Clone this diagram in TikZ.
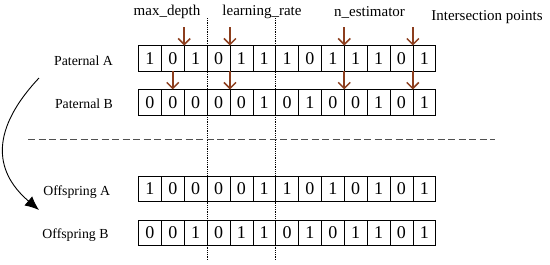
\documentclass[tikz,border=0pt]{standalone}
\usepackage{fontspec}
\setmainfont{Liberation Serif}
\usetikzlibrary{arrows.meta}
\definecolor{arrowbrown}{RGB}{140,62,30}
\definecolor{dashgray}{RGB}{80,80,80}
\tikzset{
  cell/.style={draw, line width=0.6pt, minimum width=22.86pt, minimum height=25.5pt, inner sep=0pt, outer sep=0pt, font=\fontsize{18}{20}\selectfont},
  rowlabel/.style={anchor=base, inner sep=0pt, font=\fontsize{13.8}{16}\selectfont},
  toplabel/.style={anchor=base, inner sep=0pt, font=\fontsize{15}{17}\selectfont},
  cutarrow/.style={draw=arrowbrown, line width=1.5pt, -{Straight Barb[length=6pt,width=12pt,line width=1.5pt]}},
  divider/.style={densely dotted, line width=0.8pt},
  sepline/.style={dashed, dash pattern=on 7pt off 3.5pt, draw=dashgray, line width=0.7pt},
}
\begin{document}
\begin{tikzpicture}[x=1pt,y=-1pt]
\useasboundingbox (0,0) rectangle (550,265);
% rows
\foreach \r/\yy/\bits in {a/58.3/{1,0,1,0,1,1,1,0,1,1,1,0,1},
                           b/102.2/{0,0,0,0,0,1,0,1,0,0,1,0,1},
                           c/188.7/{1,0,0,0,0,1,1,0,1,0,1,0,1},
                           d/233/{0,0,1,0,1,1,0,1,0,1,1,0,1}}{
  \foreach \v [count=\i] in \bits {
    \node[cell] (\r\i) at ({138.5+(\i-0.5)*22.86},\yy) {\v};
  }
}
% row labels
\node[rowlabel] (la) at (83.5,65) {Paternal A};
\node[rowlabel] (lb) at (84,108.3) {Paternal B};
\node[rowlabel] (lc) at (76.7,195) {Offspring A};
\node[rowlabel] (ld) at (75.5,238.3) {Offspring B};
% top labels
\node[toplabel] (t1) at (167,16) {max\_depth};
\node[toplabel] (t2) at (262,16) {learning\_rate};
\node[toplabel] (t3) at (369.5,16.5) {n\_estimator};
\node[toplabel] (t4) at (487,20.7) {Intersection points};
% dotted dividers
\coordinate (v1t) at (a3.north east |- 0,18);
\coordinate (v1b) at (a3.north east |- 0,260);
\coordinate (v2t) at (a6.north east |- 0,18);
\coordinate (v2b) at (a6.north east |- 0,260);
\draw[divider] (v1t) -- (v1b);
\draw[divider] (v2t) -- (v2b);
% dashed separator
\coordinate (s1) at (28,139.3);
\coordinate (s2) at (495,139.3);
\draw[sepline] (s1) -- (s2);
% crossover arrows (top)
\foreach \c [count=\k] in {2,4,9,12}{
  \coordinate (top\k) at ([yshift=18.5pt]a\c.north east);
  \draw[cutarrow] (top\k) -- (a\c.north east);
}
% crossover arrows (between parents)
\draw[cutarrow] (a2.south) -- (b2.north);
\draw[cutarrow] (a4.south east) -- (b4.north east);
\draw[cutarrow] (a9.south east) -- (b9.north east);
\draw[cutarrow] (a12.south east) -- (b12.north east);
% curved arrow
\coordinate (cs) at (39,78);
\coordinate (ce) at (39,210);
\draw[line width=0.9pt, -{Latex[length=14pt,width=12pt]}] (cs) .. controls (-8,128) and (-8,170) .. (ce);
\end{tikzpicture}
\end{document}
